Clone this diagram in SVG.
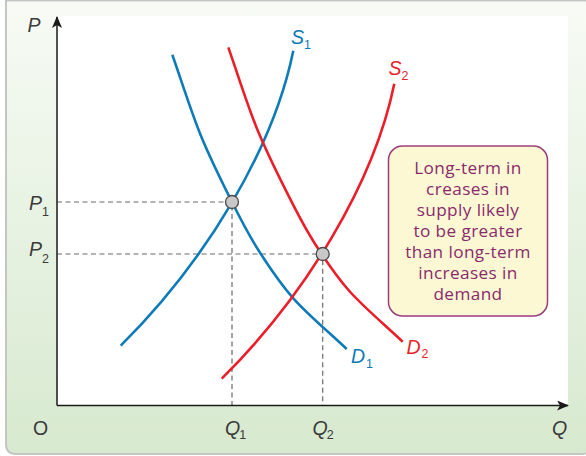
<svg xmlns="http://www.w3.org/2000/svg" width="586" height="456" viewBox="0 0 586 456">
<defs>
<linearGradient id="bg" x1="0" y1="0" x2="0" y2="1">
<stop offset="0" stop-color="#f7fbf5"/>
<stop offset="1" stop-color="#d7e9cf"/>
</linearGradient>
<marker id="arr" viewBox="0 0 12 10" refX="11" refY="5" markerWidth="12" markerHeight="10" markerUnits="userSpaceOnUse" orient="auto">
<path d="M0,0 L12,5 L0,10 L3,5 Z" fill="#1a1a1a"/>
</marker>
<path id="dcurve" d="M172.3,54.7 C181.7,81.4 190.6,110.2 200.5,134.7 C210.5,159.3 222.4,182.8 232,202 C241.6,221.2 248.1,234 258.3,250 C268.5,266 278.6,281.8 293.3,298.3 C308,314.8 328.9,332.1 346.7,349"/>
<path id="scurve" d="M120.7,345.7 C205,262 273,150 293.3,50.7"/>
</defs>
<style>
.frame{fill:url(#bg);stroke:#c4c6c4;stroke-width:2}
.axis{stroke:#1a1a1a;stroke-width:1.5;fill:none;marker-end:url(#arr)}
.dash{stroke:#6a6a6a;stroke-width:1.2;stroke-dasharray:5 3.5;fill:none}
.blue{stroke:#0e7bb8;stroke-width:2.6;fill:none}
.red{stroke:#ea1f2a;stroke-width:2.6;fill:none}
.pt{fill:#c8c8c8;stroke:#4a4a4a;stroke-width:1.3}
.lab{font-family:"Liberation Sans",Arial,sans-serif;font-size:19.5px;font-style:italic;fill:#3a3a3a}
.sub{font-size:12.5px;font-style:normal}
.bl{fill:#0e7bb8}
.rd{fill:#ea1f2a}
.note{fill:#fdf8d4;stroke:#9a3c7c;stroke-width:1.5}
.nt{font-family:"Open Sans","Liberation Sans",sans-serif;font-size:17.2px;fill:#8a2a6b;text-anchor:middle;letter-spacing:0.4px}
</style>
<path class="frame" d="M6,0.5 H592 V444 Q592,454 582,454 H16 Q6,454 6,444 Z"/>
<rect x="57" y="16" width="511" height="390" fill="#ffffff"/>
<g id="guides">
<path class="dash" d="M57,202 H232 V405"/>
<path class="dash" d="M57,254 H322.7 V405"/>
</g>
<g id="axes">
<path class="axis" d="M57,405.5 V17"/>
<path class="axis" d="M57,405.5 H568"/>
</g>
<g id="connectors">
<use href="#scurve" class="blue"/>
<use href="#dcurve" class="blue"/>
<use href="#scurve" class="red" transform="translate(101,33)"/>
<use href="#dcurve" class="red" transform="translate(56,-7.3)"/>
</g>
<g id="equilibria">
<circle class="pt" cx="232" cy="202" r="6.5"/>
<circle class="pt" cx="322.7" cy="254" r="6.5"/>
</g>
<g id="axis-labels" class="lab">
<text x="27.5" y="31.5">P</text>
<text x="29" y="209.5">P<tspan class="sub" dy="6">1</tspan></text>
<text x="29" y="256">P<tspan class="sub" dy="6.5">2</tspan></text>
<text x="33" y="435" style="font-style:normal">O</text>
<text x="225" y="435">Q<tspan class="sub" dy="4" dx="-1">1</tspan></text>
<text x="312.5" y="435">Q<tspan class="sub" dy="4" dx="-1">2</tspan></text>
<text x="552" y="435">Q</text>
</g>
<g id="curve-labels" class="lab">
<text class="bl" x="291" y="43.7">S<tspan class="sub" dy="5">1</tspan></text>
<text class="rd" x="388.5" y="74.7">S<tspan class="sub" dy="5.5">2</tspan></text>
<text class="bl" x="351" y="363">D<tspan class="sub" dy="4.5" dx="1">1</tspan></text>
<text class="rd" x="406.5" y="353.5">D<tspan class="sub" dy="4.5" dx="1">2</tspan></text>
</g>
<g id="note">
<rect class="note" x="388.5" y="146" width="159" height="170" rx="14"/>
<text class="nt" x="468" y="174.3">Long-term in</text>
<text class="nt" x="468" y="195.3">creases in</text>
<text class="nt" x="468" y="216.3">supply likely</text>
<text class="nt" x="468" y="237.3">to be greater</text>
<text class="nt" x="468" y="258.3">than long-term</text>
<text class="nt" x="468" y="279.3">increases in</text>
<text class="nt" x="468" y="300.3">demand</text>
</g>
</svg>
